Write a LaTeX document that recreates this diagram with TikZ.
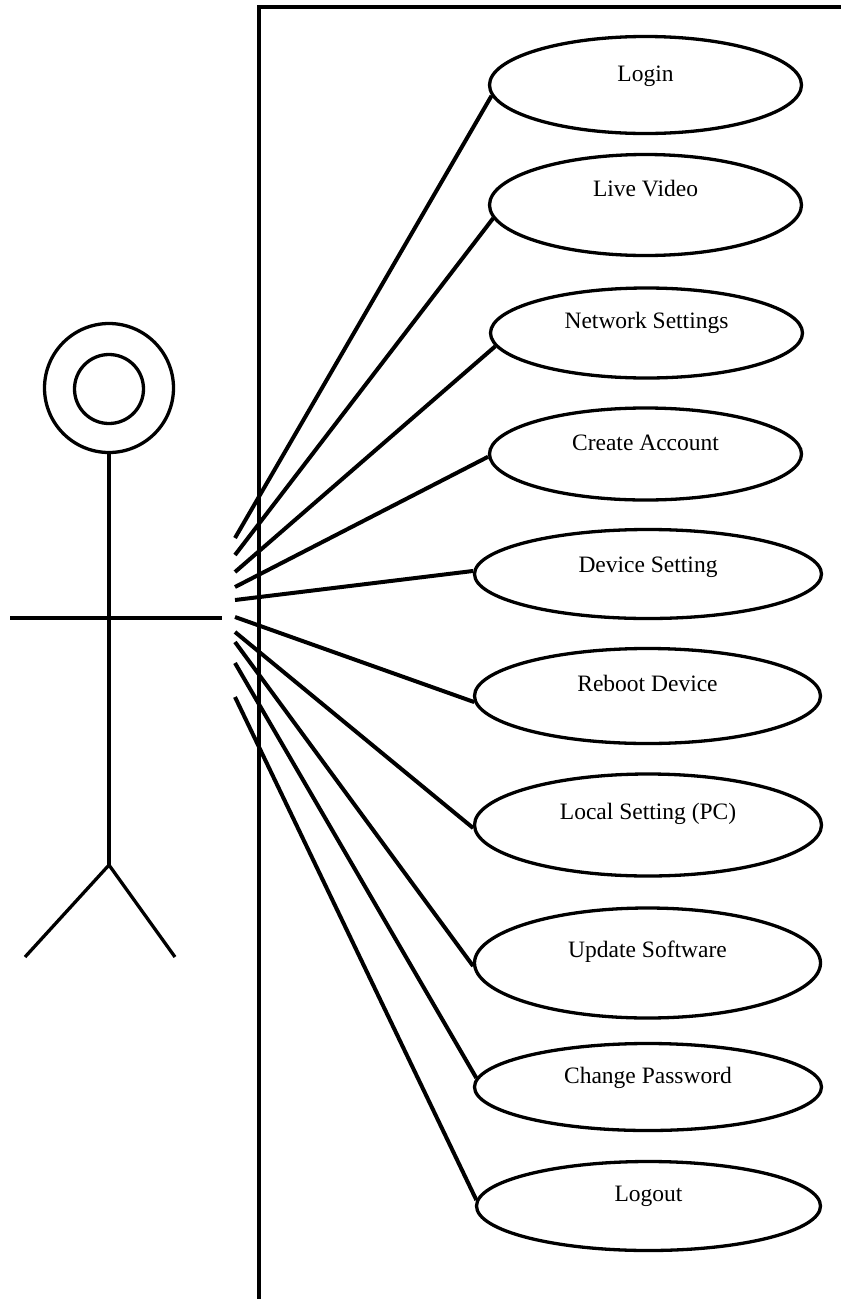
\documentclass[tikz,border=0pt]{standalone}
\usepackage{fontspec}
\setmainfont{Liberation Serif}
\usetikzlibrary{shapes.geometric}
\begin{document}
\begin{tikzpicture}[x=1pt,y=-1pt,
  uc/.style={ellipse, draw, line width=3.3pt, inner sep=0pt},
  lbl/.style={anchor=base, font=\fontsize{23.5}{28}\selectfont, inner sep=0pt},
  assoc/.style={line width=4pt},
  stick/.style={line width=3.3pt},
  headc/.style={circle, draw, line width=3.3pt, inner sep=0pt}]
\useasboundingbox (0,0) rectangle (841,1299);

% system boundary
\coordinate (bBot) at (259,1310);
\coordinate (bTop) at (259,7);
\coordinate (bRight) at (850,7);
\draw[line width=3.8pt] (bBot) -- (bTop) -- (bRight);

% use cases
\node[uc, minimum width=312pt, minimum height=97pt]  (login)  at (645.5,85)  {};
\node[uc, minimum width=312pt, minimum height=101pt] (live)   at (645.5,205) {};
\node[uc, minimum width=312pt, minimum height=90pt]  (net)    at (646.5,333) {};
\node[uc, minimum width=312pt, minimum height=92pt]  (create) at (645.5,454) {};
\node[uc, minimum width=347pt, minimum height=89pt]  (device) at (648,574)   {};
\node[uc, minimum width=346pt, minimum height=95pt]  (reboot) at (647.5,696) {};
\node[uc, minimum width=347pt, minimum height=102pt] (local)  at (648,825)   {};
\node[uc, minimum width=346pt, minimum height=110pt] (update) at (647.5,963) {};
\node[uc, minimum width=347pt, minimum height=87pt]  (change) at (648,1087)  {};
\node[uc, minimum width=344pt, minimum height=89pt]  (logout) at (648.5,1206){};

\node[lbl] (tlogin)  at ([yshift=4pt]login.center)  {Login};
\node[lbl] (tlive)   at ([yshift=9pt]live.center)   {Live Video};
\node[lbl] (tnet)    at ([yshift=5pt]net.center)    {Network Settings};
\node[lbl] (tcreate) at ([yshift=4pt]create.center) {Create Account};
\node[lbl] (tdevice) at ([yshift=2pt]device.center) {Device Setting};
\node[lbl] (treboot) at ([yshift=5pt]reboot.center) {Reboot Device};
\node[lbl] (tlocal)  at ([yshift=6pt]local.center)  {Local Setting (PC)};
\node[lbl] (tupdate) at ([yshift=6pt]update.center) {Update Software};
\node[lbl] (tchange) at ([yshift=4pt]change.center) {Change Password};
\node[lbl] (tlogout) at ([yshift=5pt]logout.center) {Logout};

% actor
\node[headc, minimum size=129pt] (headout) at (109,388) {};
\node[headc, minimum size=69pt]  (headin)  at (109,389) {};
\coordinate (hip) at (109,865);
\coordinate (handL) at (10,618);
\coordinate (handR) at (222,618);
\coordinate (footL) at (25,957);
\coordinate (footR) at (175,957);
\draw[stick] (headout.south) -- (hip);
\draw[stick] (handL) -- (handR);
\draw[stick] (footL) -- (hip) -- (footR);

% association start points
\coordinate (s1)  at (235,538);
\coordinate (s2)  at (235,555);
\coordinate (s3)  at (235,572);
\coordinate (s4)  at (235,587);
\coordinate (s5)  at (235,600);
\coordinate (s6)  at (235,617);
\coordinate (s7)  at (235,632);
\coordinate (s8)  at (235,642);
\coordinate (s9)  at (235,663);
\coordinate (s10) at (235,697);

\draw[assoc] (s1)  -- (login.184);
\draw[assoc] (s2)  -- (live.185);
\draw[assoc] (s3)  -- (net.185);
\draw[assoc] (s4)  -- (create.181);
\draw[assoc] (s5)  -- (device.179);
\draw[assoc] (s6)  -- (reboot.182);
\draw[assoc] (s7)  -- (local.181.5);
\draw[assoc] (s8)  -- (update.181.3);
\draw[assoc] (s9)  -- (change.177.7);
\draw[assoc] (s10) -- (logout.178);
\end{tikzpicture}
\end{document}
